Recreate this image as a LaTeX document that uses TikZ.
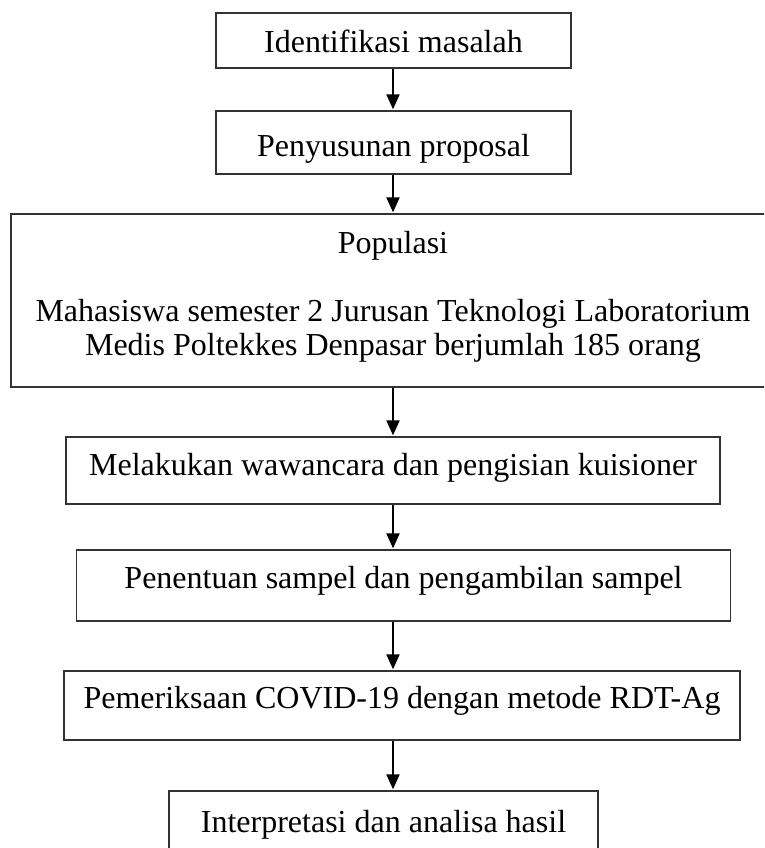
\documentclass[tikz,border=0pt]{standalone}
\usepackage{fontspec}
\setmainfont{Liberation Serif}
\usetikzlibrary{arrows.meta}
\begin{document}
\begin{tikzpicture}[x=1pt,y=-1pt,
        box/.style={draw=black!80,line width=1.3pt,inner sep=0pt,anchor=base,align=center,
            font=\fontsize{32}{34}\selectfont},
        arr/.style={line width=2pt,shorten >=1pt,-{Triangle[width=13pt,length=15pt]}}]
    \useasboundingbox (0,0) rectangle (764,848);
    \clip (0,0) rectangle (764,848);
    \coordinate (axis) at (393,0);

    \node[box,minimum width=355,text height=40,text depth=15] (ident) at (393.5,53) {Identifikasi masalah};
    \node[box,minimum width=355,text height=46,text depth=17] (susun) at (393.5,157) {Penyusunan proposal};
    % base of a multi-line node sits on its last line
    \node[box,minimum width=764,text height=141,text depth=32] (populasi) at (393,355)
        {Populasi\\[34pt]Mahasiswa semester 2 Jurusan Teknologi Laboratorium\\Medis Poltekkes Denpasar berjumlah 185 orang};
    \node[box,minimum width=654,text height=38,text depth=29] (wawancara) at (393,475) {Melakukan wawancara dan pengisian kuisioner};
    \node[box,minimum width=654,text height=38,text depth=33] (sampel) at (403.5,588) {Penentuan sampel dan pengambilan sampel};
    \node[box,minimum width=676,text height=37,text depth=32] (periksa) at (402,708) {Pemeriksaan COVID-19 dengan metode RDT-Ag};
    \node[box,minimum width=429,text height=41,text depth=32] (hasil) at (383.5,832) {Interpretasi dan analisa hasil};

    \draw[arr] (ident.south -| axis) -- (susun.north -| axis);
    \draw[arr] (susun.south -| axis) -- (populasi.north -| axis);
    \draw[arr] (populasi.south -| axis) -- (wawancara.north -| axis);
    \draw[arr] (wawancara.south -| axis) -- (sampel.north -| axis);
    \draw[arr] (sampel.south -| axis) -- (periksa.north -| axis);
    \draw[arr] (periksa.south -| axis) -- (hasil.north -| axis);
\end{tikzpicture}
\end{document}
